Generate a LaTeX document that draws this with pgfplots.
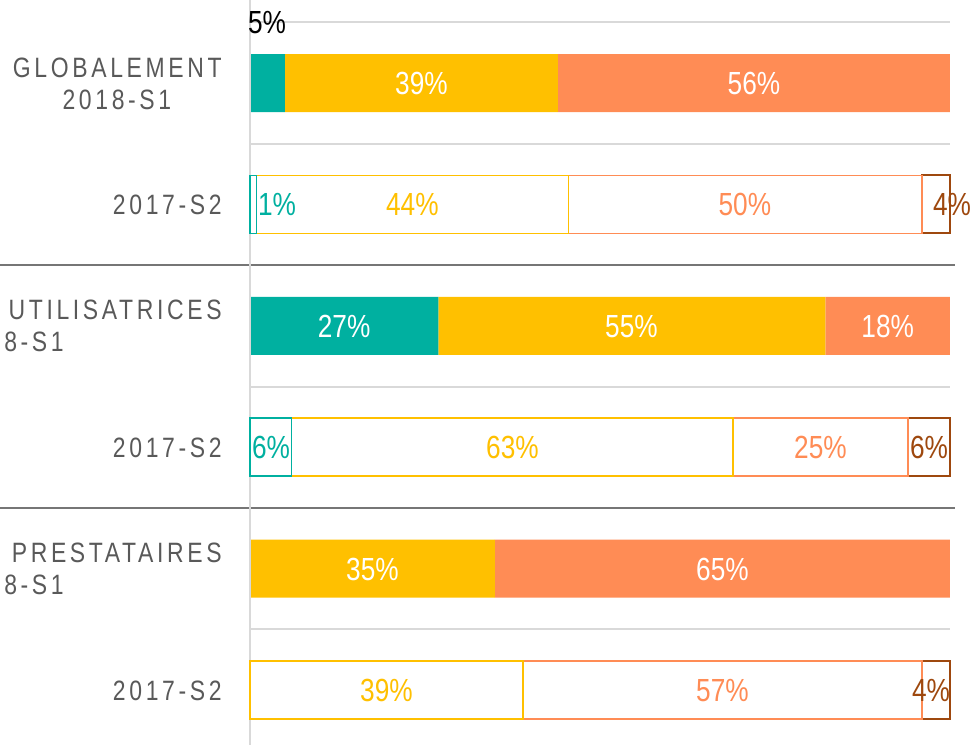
\documentclass[border=0pt]{standalone}
\usepackage{fontspec}
\setmainfont{Liberation Sans}[FakeStretch=0.82]
\newfontfamily\lblfont{Liberation Sans}[FakeStretch=0.82,LetterSpace=13]
\usepackage{pgfplots}
\pgfplotsset{compat=1.18}
\definecolor{cteal}{RGB}{0,176,160}
\definecolor{cyel}{RGB}{255,192,0}
\definecolor{cora}{RGB}{255,140,85}
\definecolor{cbrn}{RGB}{158,72,14}
\definecolor{clbl}{RGB}{89,89,89}
\definecolor{cgrid}{RGB}{217,217,217}
\definecolor{csep}{RGB}{118,118,118}
\tikzset{
  pl/.style={font=\fontsize{16pt}{16pt}\selectfont, anchor=base, yshift=-5.7pt, inner sep=0pt},
  lb/.style={font=\lblfont\fontsize{14pt}{14pt}\selectfont, text=clbl, anchor=base east, yshift=-5pt, inner sep=0pt},
}
\pgfplotsset{
  base/.style={scale only axis, width=350pt, height=372.5pt,
    xmin=0, xmax=100, ymin=-0.453, ymax=5.684, hide axis, clip=false,
    xbar stacked, bar width=29pt},
  filled/.style={draw=none, fill=#1},
  outl/.style={draw=#1, line width=0.75pt, fill=white},
}
\begin{document}
\begin{tikzpicture}
\useasboundingbox (-125pt,0pt) rectangle (363pt,372.5pt);
\clip (-125pt,0pt) rectangle (363pt,372.5pt);
% ---- filled rows (2018-S1) ----
\begin{axis}[base]
  \draw[cgrid, line width=1pt] (axis cs:0,-0.453) -- (axis cs:0,5.684);
  \draw[cgrid, line width=1pt] (axis cs:0,5.5) -- (axis cs:100,5.5);
  \draw[cgrid, line width=1pt] (axis cs:0,4.5) -- (axis cs:100,4.5);
  \draw[cgrid, line width=1pt] (axis cs:0,2.5) -- (axis cs:100,2.5);
  \draw[cgrid, line width=1pt] (axis cs:0,0.5) -- (axis cs:100,0.5);
  \draw[csep, line width=1pt] (axis cs:-36,3.5) -- (axis cs:100.7,3.5);
  \draw[csep, line width=1pt] (axis cs:-36,1.5) -- (axis cs:100.7,1.5);
  \addplot[filled=cteal] coordinates {(5,5) (26.9,3) (0,1)};
  \addplot[filled=cyel]  coordinates {(39,5) (55.3,3) (35,1)};
  \addplot[filled=cora]  coordinates {(56,5) (17.8,3) (65,1)};
\end{axis}
% ---- outlined rows (2017-S2) ----
\begin{axis}[base]
  \addplot[outl=cteal] coordinates {(0.9,4) (5.9,2) (0,0)};
  \addplot[outl=cyel]  coordinates {(44.6,4) (63.1,2) (39,0)};
  \addplot[outl=cora]  coordinates {(50.5,4) (25,2) (57,0)};
  \addplot[outl=cbrn, line width=1pt] coordinates {(4,4) (6,2) (4,0)};
\end{axis}
% ---- labels ----
\begin{axis}[base]
  \node[pl, text=black] at (axis cs:2.43,5.5) {5\%};
  \node[pl, text=white] at (axis cs:24.5,5) {39\%};
  \node[pl, text=white] at (axis cs:72,5) {56\%};
  \node[pl, text=white] at (axis cs:13.45,3) {27\%};
  \node[pl, text=white] at (axis cs:54.5,3) {55\%};
  \node[pl, text=white] at (axis cs:91.1,3) {18\%};
  \node[pl, text=white] at (axis cs:17.5,1) {35\%};
  \node[pl, text=white] at (axis cs:67.5,1) {65\%};
  \node[pl, text=cteal] at (axis cs:3.86,4) {1\%};
  \node[pl, text=cyel]  at (axis cs:23.2,4) {44\%};
  \node[pl, text=cora]  at (axis cs:70.7,4) {50\%};
  \node[pl, text=cbrn]  at (axis cs:100.3,4) {4\%};
  \node[pl, text=cteal] at (axis cs:3,2) {6\%};
  \node[pl, text=cyel]  at (axis cs:37.5,2) {63\%};
  \node[pl, text=cora]  at (axis cs:81.5,2) {25\%};
  \node[pl, text=cbrn]  at (axis cs:97,2) {6\%};
  \node[pl, text=cyel]  at (axis cs:19.5,0) {39\%};
  \node[pl, text=cora]  at (axis cs:67.5,0) {57\%};
  \node[pl, text=cbrn]  at (axis cs:97.3,0) {4\%};
  % category labels
  \node[lb] at (axis cs:-4,5) [yshift=8pt] {GLOBALEMENT};
  \node[lb] at (axis cs:-11.2,5) [yshift=-8pt] {2018-S1};
  \node[lb] at (axis cs:-4,4) {2017-S2};
  \node[lb] at (axis cs:-4,3) [yshift=8pt] {UTILISATRICES};
  \node[lb] at (axis cs:-26.55,3) [yshift=-8pt] {2018-S1};
  \node[lb] at (axis cs:-4,2) {2017-S2};
  \node[lb] at (axis cs:-4,1) [yshift=8pt] {PRESTATAIRES};
  \node[lb] at (axis cs:-26.55,1) [yshift=-8pt] {2018-S1};
  \node[lb] at (axis cs:-4,0) {2017-S2};
\end{axis}
\end{tikzpicture}
\end{document}
